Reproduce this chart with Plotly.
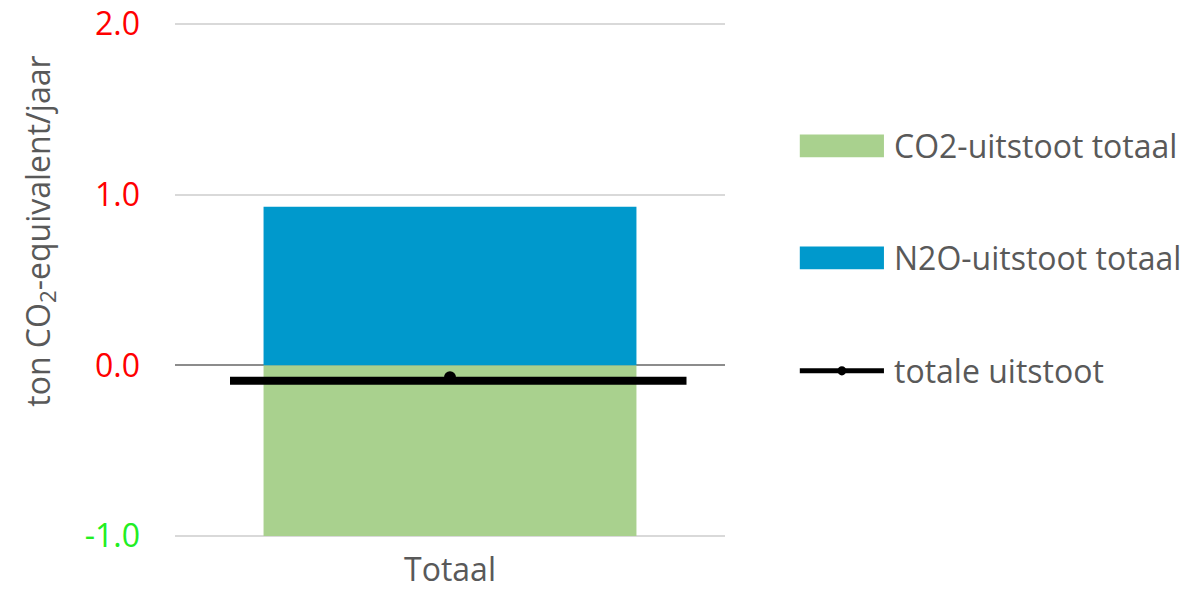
import plotly.graph_objects as go

# Data
categories = ["Totaal"]
series_names = ["CO2-uitstoot totaal", "N2O-uitstoot totaal", "totale uitstoot"]
co2_values = [-1.0]
n2o_values = [0.93]
total_point = [-0.07]
total_line = [-0.09, -0.09]
line_span = [0.1, 0.93]
tick_values = [-1.0, 0.0, 1.0, 2.0]
tick_labels = ["-1.0", "0.0", "1.0", "2.0"]
tick_colors = ["#22EE22", "#FF0000", "#FF0000", "#FF0000"]

GREEN = "#A9D18E"
BLUE = "#0099CC"
GREY_TEXT = "#595959"
FONT = "Open Sans"
FS = 32

fig = go.Figure()

fig.add_trace(go.Bar(x=categories, y=co2_values, name=series_names[0],
                     marker=dict(color=GREEN, line=dict(width=0)), showlegend=False))
fig.add_trace(go.Bar(x=categories, y=n2o_values, name=series_names[1],
                     marker=dict(color=BLUE, line=dict(width=0)), showlegend=False))

# horizontal total line on a helper numeric x axis
fig.add_trace(go.Scatter(x=line_span, y=total_line, mode="lines", xaxis="x2",
                         line=dict(color="black", width=8), showlegend=False))
fig.add_trace(go.Scatter(x=categories, y=total_point, mode="markers", name=series_names[2],
                         marker=dict(color="black", size=12), showlegend=False))

ticktext = [f'<span style="color:{c}">{t}</span>' for t, c in zip(tick_labels, tick_colors)]

fig.update_layout(
    width=1199, height=601,
    margin=dict(l=175, r=474, t=22, b=63),
    paper_bgcolor="white", plot_bgcolor="white",
    barmode="relative", bargap=0.322,
    font=dict(family=FONT, size=FS, color=GREY_TEXT),
    xaxis=dict(showgrid=False, showline=False, ticks="", tickfont=dict(size=FS, color=GREY_TEXT),
               ticklabelstandoff=10, automargin=False),
    xaxis2=dict(range=[0, 1], overlaying="x", visible=False),
    yaxis=dict(range=[-1.012, 2.012], tickvals=tick_values, ticktext=ticktext,
               showgrid=True, gridcolor="#D9D9D9", gridwidth=2,
               zeroline=True, zerolinecolor="#8C8C8C", zerolinewidth=2,
               showline=False, ticks="", ticklabelstandoff=34,
               tickfont=dict(size=FS), automargin=False),
)

# axis title
fig.add_annotation(text="ton CO<sub>2</sub>-equivalent/jaar", xref="paper", yref="paper",
                   x=-0.245, y=0.594, textangle=-90, showarrow=False,
                   font=dict(size=FS, color=GREY_TEXT), xanchor="center", yanchor="middle")

# legend drawn with shapes and labels
legend_y = [0.760, 0.543, 0.324]
x0, x1, xt = 1.136, 1.289, 1.303
for i, (name, yc) in enumerate(zip(series_names, legend_y)):
    if i < 2:
        color = [GREEN, BLUE][i]
        fig.add_shape(type="rect", xref="paper", yref="paper", x0=x0, x1=x1,
                      y0=yc - 0.022, y1=yc + 0.022, fillcolor=color, line=dict(width=0))
    else:
        fig.add_shape(type="line", xref="paper", yref="paper", x0=x0, x1=x1,
                      y0=yc, y1=yc, line=dict(color="black", width=5))
        fig.add_shape(type="circle", xref="paper", yref="paper",
                      x0=(x0 + x1) / 2 - 0.008, x1=(x0 + x1) / 2 + 0.008,
                      y0=yc - 0.009, y1=yc + 0.009, fillcolor="black", line=dict(width=0))
    fig.add_annotation(text=name, xref="paper", yref="paper", x=xt, y=yc,
                       xanchor="left", yanchor="middle", showarrow=False,
                       font=dict(size=FS, color=GREY_TEXT))

fig.write_html("out.html")
